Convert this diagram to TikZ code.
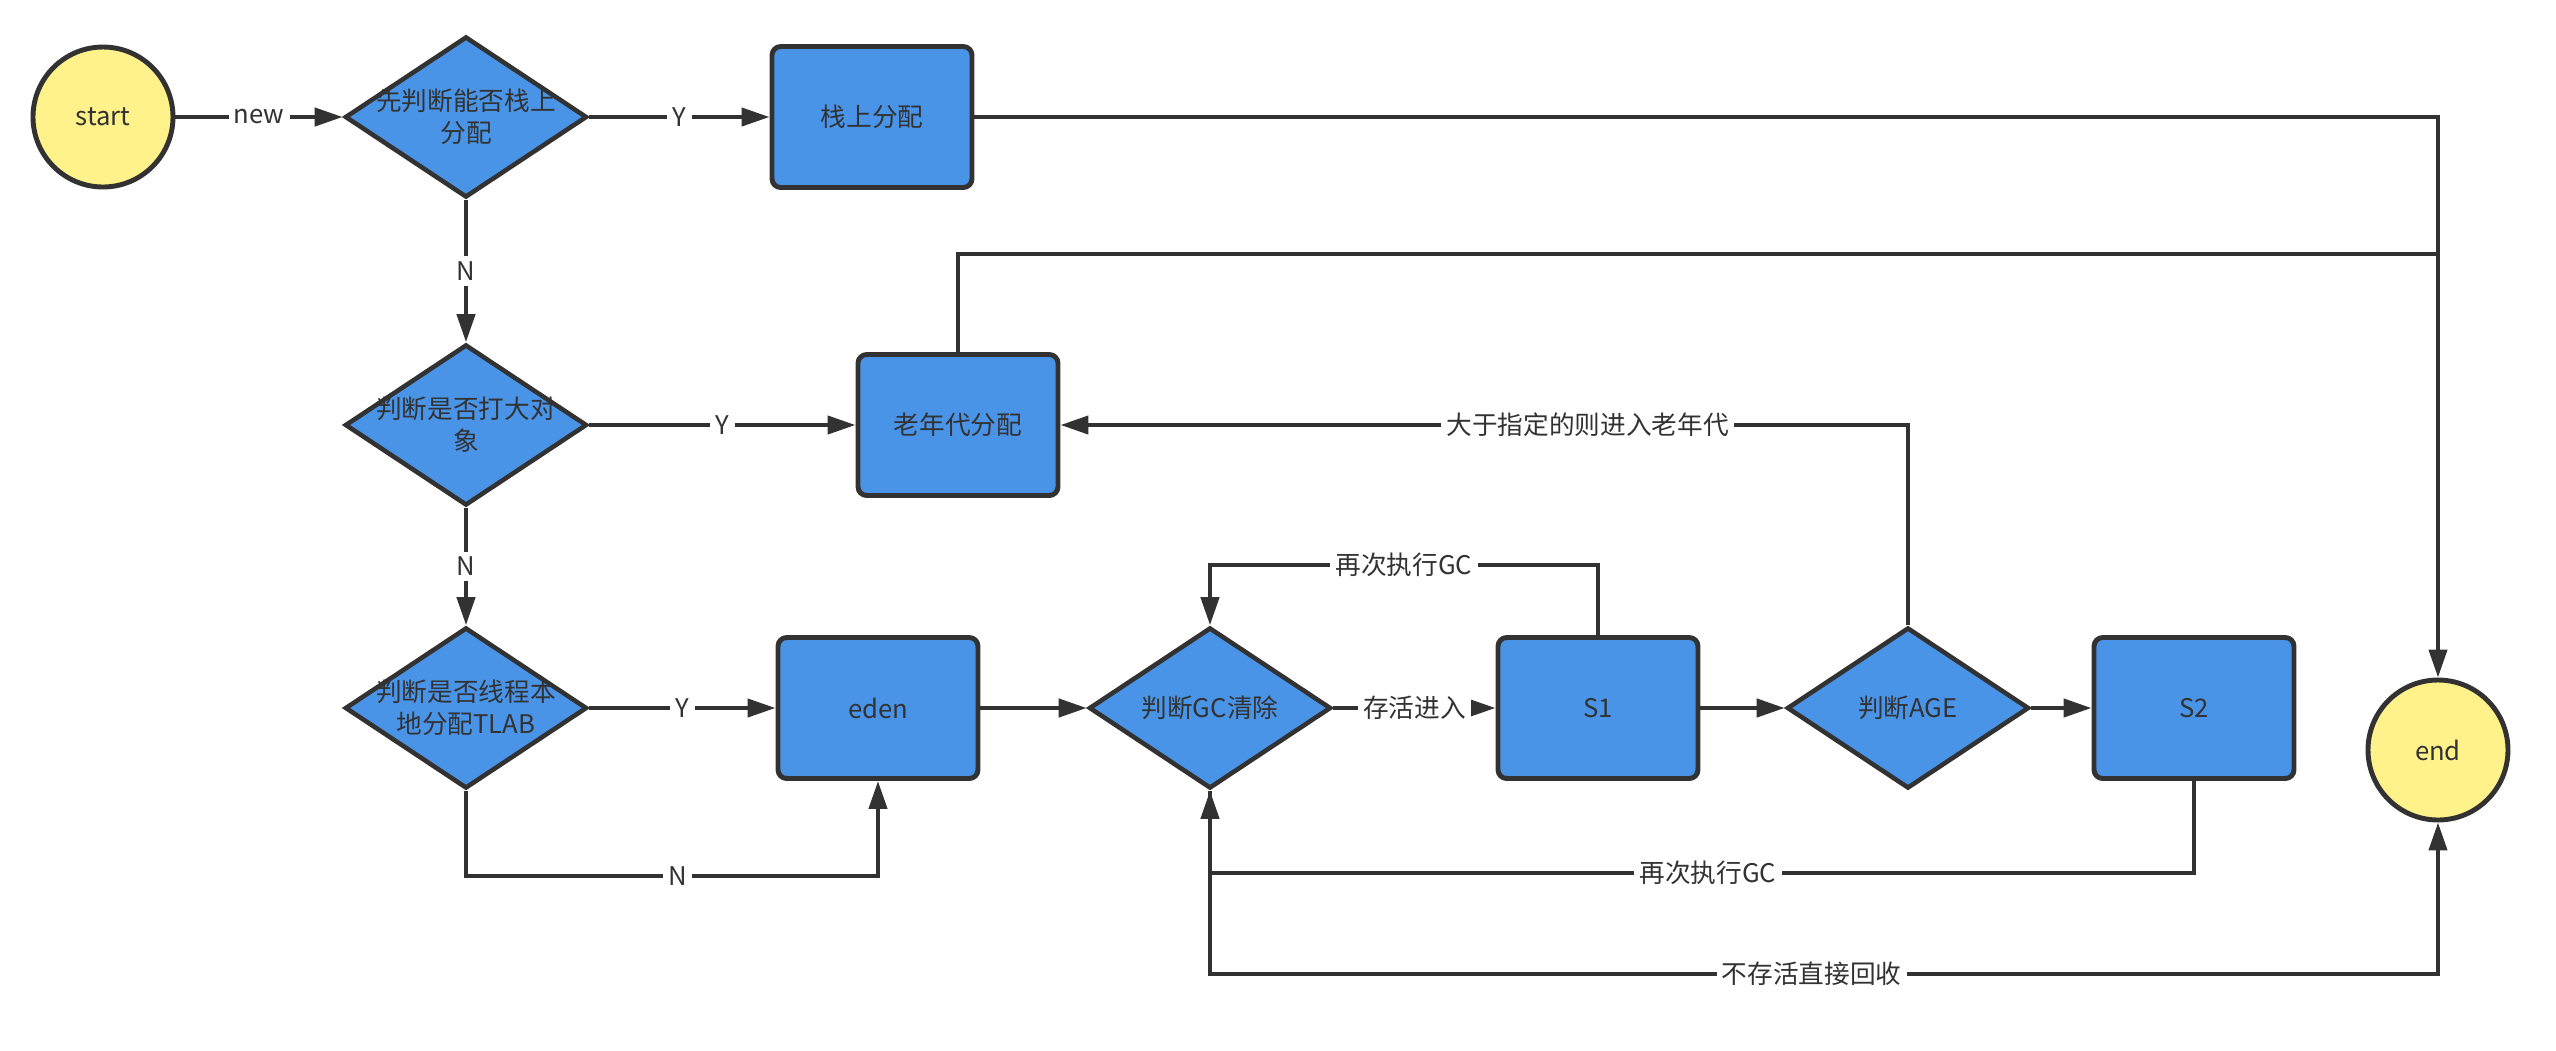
\documentclass[tikz,border=0pt]{standalone}
\usepackage{fontspec}
\setmainfont{Noto Sans CJK SC}
\usepackage{tikz}
\usetikzlibrary{shapes.geometric,arrows.meta}
\definecolor{boxblue}{HTML}{4A94E8}
\definecolor{termyellow}{HTML}{FFF28A}
\definecolor{ink}{HTML}{323232}

\begin{document}
\begin{tikzpicture}[every node/.style={font=\fontsize{7.3}{9.1}\selectfont,text=ink},
                    box/.style={draw=ink,line width=1.4pt,fill=boxblue,rounded corners=2.5pt,minimum width=2cm,minimum height=1.41cm,align=center},
                    dec/.style={diamond,draw=ink,line width=1.3pt,fill=boxblue,minimum width=2.42cm,minimum height=1.61cm,inner sep=0pt},
                    term/.style={circle,draw=ink,line width=1.4pt,fill=termyellow,minimum size=1.4cm,inner sep=0pt},
                    lbl/.style={fill=white,inner sep=1.5pt},
                    color=ink,line width=1.2pt,>={Triangle[length=2.8mm,width=1.8mm]}]
\useasboundingbox (0,0) rectangle (25.56,-10.5);
\node[term] (start) at (1.03,-1.17) {start};
\node[dec,label={[align=center]center:{先判断能否栈上\\分配}}] (stackchk) at (4.66,-1.17) {};
\node[box] (stack) at (8.72,-1.17) {栈上分配};
\node[dec,label={[align=center]center:{判断是否打大对\\象}}] (bigchk) at (4.66,-4.25) {};
\node[box] (old) at (9.58,-4.25) {老年代分配};
\node[dec,label={[align=center]center:{判断是否线程本\\地分配TLAB}}] (tlabchk) at (4.66,-7.08) {};
\node[box] (eden) at (8.78,-7.08) {eden};
\node[dec,label={center:判断GC清除}] (gcchk) at (12.10,-7.08) {};
\node[box] (s1) at (15.98,-7.08) {S1};
\node[dec,label={center:判断AGE}] (agechk) at (19.08,-7.08) {};
\node[box] (s2) at (21.94,-7.08) {S2};
\node[term] (end) at (24.38,-7.50) {end};
\coordinate (merge) at (24.38,-2.54);
\draw[->] (start) -- node[lbl]{new} (stackchk);
\draw[->] (stackchk) -- node[lbl]{Y} (stack);
\draw[->] (stackchk) -- node[lbl]{N} (bigchk);
\draw[->] (bigchk) -- node[lbl]{Y} (old);
\draw[->] (bigchk) -- node[lbl]{N} (tlabchk);
\draw[->] (tlabchk) -- node[lbl]{Y} (eden);
\draw[->] (tlabchk.south) -- ++(0,-0.85) -| node[lbl,pos=0.257]{N} (eden.south);
\draw[->] (eden) -- (gcchk);
\draw[->] (gcchk) -- node[lbl]{存活进入} (s1);
\draw[->] (s1.north) -- ++(0,0.70) -| node[lbl,pos=0.25]{再次执行GC} (gcchk.north);
\draw[->] (s1) -- (agechk);
\draw[->] (agechk) -- (s2);
\draw[->] (agechk.north) |- node[lbl,pos=0.689]{大于指定的则进入老年代} (old.east);
\draw[->] (s2.south) -- ++(0,-0.92) -| node[lbl,pos=0.247]{再次执行GC} (gcchk.south);
\draw[->] (gcchk.south) -- ++(0,-1.83) -| node[lbl,pos=0.245]{不存活直接回收} (end.south);
\draw[->] (stack.east) -| (end.north);
\draw (old.north) |- (merge);
\end{tikzpicture}
\end{document}
